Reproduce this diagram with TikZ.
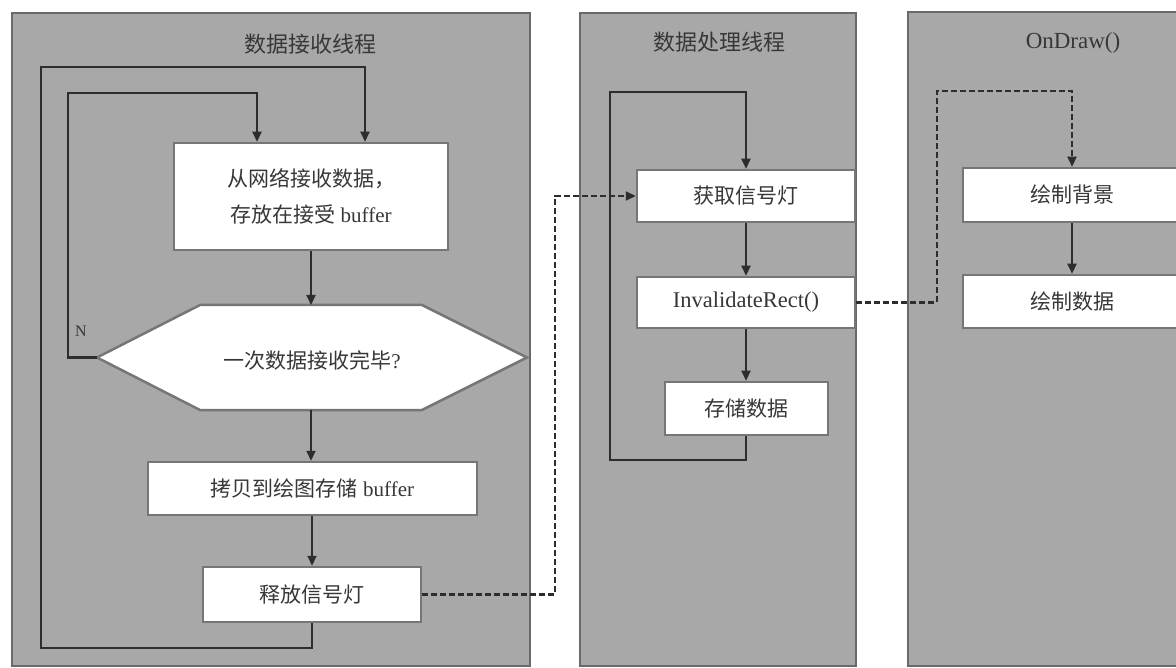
\documentclass[tikz,border=0pt]{standalone}
\usepackage{fontspec}
\setmainfont{Liberation Serif}
\newfontfamily\cjk{Noto Sans CJK SC}
\usetikzlibrary{arrows.meta}
\definecolor{pfill}{RGB}{168,168,168}
\definecolor{pborder}{RGB}{105,105,105}
\definecolor{bborder}{RGB}{118,118,118}
\definecolor{lcol}{RGB}{45,45,45}
\definecolor{txt}{RGB}{55,55,55}
\begin{document}
\begin{tikzpicture}[x=1pt,y=-1pt,
  panel/.style={draw=pborder,fill=pfill,line width=2pt,inner sep=0pt},
  title/.style={text=txt,font=\fontsize{22}{26}\selectfont,inner sep=0pt},
  box/.style={draw=bborder,fill=white,line width=2.5pt,inner sep=0pt,align=center,
    text=txt,font=\fontsize{21}{36}\selectfont},
  plain/.style={text=txt,font=\fontsize{21}{26}\selectfont,inner sep=0pt},
  lab/.style={text=txt,font=\fontsize{16}{18}\selectfont,inner sep=0pt},
  flow/.style={draw=lcol,line width=2.2pt,-{Triangle[length=10pt,width=9pt]}},
  dashflow/.style={draw=lcol,line width=2.2pt,dash pattern=on 6pt off 3pt,-{Triangle[length=10pt,width=9pt]}}]
\useasboundingbox (0,0) rectangle (1176,668);
\clip (0,0) rectangle (1176,668);
\fill[white] (0,0) rectangle (1176,668);

% panels
\node[panel,minimum width=518pt,minimum height=653pt] (p1) at (271,339.5) {};
\node[panel,minimum width=276pt,minimum height=653pt] (p2) at (718,339.5) {};
\node[panel,minimum width=282pt,minimum height=654pt] (p3) at (1049,339) {};

\node[title] (t1) at (310,44) {\cjk 数据接收线程};
\node[title] (t2) at (719,42) {\cjk 数据处理线程};
\node[title,font=\fontsize{23}{26}\selectfont] (t3) at (1073,43) {OnDraw()};

% panel 1
\node[box,minimum width=274pt,minimum height=107pt] (b1) at (311,196.5)
  {{\cjk 从网络接收数据，}\\{\cjk 存放在接受} buffer};
\coordinate (hT) at (311,305);
\coordinate (hB) at (311,410);
\coordinate (hL) at (97,357.5);
\coordinate (hR) at (527,357.5);
\draw[draw=bborder,fill=white,line width=2.5pt,line join=miter]
  (hL) -- (200,305) -- (422,305) -- (hR) -- (422,410) -- (200,410) -- cycle;
\node[plain] (dec) at (312,360) {{\cjk 一次数据接收完毕}?};
\node[box,minimum width=329pt,minimum height=53pt] (b3) at (312.5,488.5)
  {{\cjk 拷贝到绘图存储} buffer};
\node[box,minimum width=218pt,minimum height=55pt] (b4) at (312,594.5)
  {\cjk 释放信号灯};
\node[lab] (N) at (81,331) {N};

\draw[flow] (b1.south -| hT) -- (hT);
\draw[flow] (hB) -- (hB |- b3.north);
\draw[flow] (b3.south -| b4.north) -- (b4.north);

\coordinate (o1) at (365,67);
\coordinate (o2) at (41,67);
\coordinate (o3) at (41,648);
\draw[flow] (b4.south) |- (o3) -- (o2) -- (o1) -- (o1 |- b1.north);
\coordinate (i1) at (257,93);
\coordinate (i2) at (68,93);
\coordinate (i3) at (68,357.5);
\draw[flow] (hL) -- (i3) -- (i2) -- (i1) -- (i1 |- b1.north);

% panel 2
\node[box,minimum width=218pt,minimum height=52pt] (b5) at (746,196) {\cjk 获取信号灯};
\node[box,minimum width=218pt,minimum height=51pt,font=\fontsize{22.5}{26}\selectfont] (b6) at (746,302.5) {InvalidateRect()};
\node[box,minimum width=163pt,minimum height=53pt] (b7) at (746.5,408.5) {\cjk 存储数据};
\draw[flow] (b5.south) -- (b6.north);
\draw[flow] (b6.south) -- (b6.south |- b7.north);
\coordinate (q1) at (746,92);
\coordinate (q2) at (610,92);
\coordinate (q3) at (610,460);
\draw[flow] (b7.south -| q1) |- (q3) -- (q2) -- (q1) -- (b5.north);

% panel 3
\node[box,minimum width=218pt,minimum height=54pt] (b8) at (1072,195) {\cjk 绘制背景};
\node[box,minimum width=218pt,minimum height=53pt] (b9) at (1072,301.5) {\cjk 绘制数据};
\draw[flow] (b8.south) -- (b9.north);

% dashed links
\coordinate (d1) at (555,196);
\draw[dashflow] (b4.east) -| (d1) -- (b5.west);
\coordinate (d2) at (937,91);
\draw[dashflow] (b6.east) -| (d2) -| (b8.north);
\end{tikzpicture}
\end{document}
